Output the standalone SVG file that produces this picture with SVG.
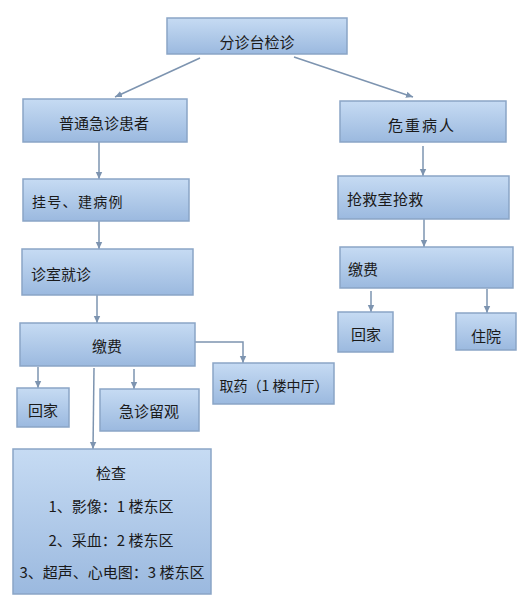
<svg xmlns="http://www.w3.org/2000/svg" width="526" height="606" viewBox="0 0 526 606">
<defs>
<linearGradient id="g" x1="0" y1="0" x2="0" y2="1">
<stop offset="0" stop-color="#c6dbf3"/>
<stop offset="1" stop-color="#9bb9df"/>
</linearGradient>
<marker id="ah" markerWidth="8" markerHeight="8" refX="7" refY="4" orient="auto" markerUnits="userSpaceOnUse">
<path d="M0,0.8 L7,4 L0,7.2 Z" fill="#7d94b0"/>
</marker>
<style>
.b{fill:url(#g);stroke:#8aa5c6;stroke-width:1.5}
.t{font-family:"Noto Sans CJK SC","Liberation Sans",sans-serif;font-size:15px;fill:#1a1a1a;dominant-baseline:central}
.c{text-anchor:middle}
.l{fill:none;stroke:#7d94b0;stroke-width:1.5;marker-end:url(#ah)}
</style>
</defs>
<rect width="526" height="606" fill="#ffffff"/>
<g id="connectors">
<path class="l" d="M200,58 L115,97"/>
<path class="l" d="M294,57 L413,97"/>
<path class="l" d="M99,142 L99,179"/>
<path class="l" d="M99,221 L99,249"/>
<path class="l" d="M97,295 L97,323"/>
<path class="l" d="M423,146 L423,176"/>
<path class="l" d="M424,219 L424,247"/>
<path class="l" d="M371,291 L371,312"/>
<path class="l" d="M487,289 L487,313"/>
<path class="l" d="M193,342 L243,342 L243,363"/>
<path class="l" d="M38,367 L38,388"/>
<path class="l" d="M134,369 L134,389"/>
<path class="l" d="M94,368 L93,449"/>
</g>
<g id="n1"><rect class="b" x="167" y="18" width="180" height="36"/><text class="t c" x="257" y="41">分诊台检诊</text></g>
<g id="n2"><rect class="b" x="23" y="99" width="164" height="43"/><text class="t c" x="104" y="122">普通急诊患者</text></g>
<g id="n3"><rect class="b" x="340" y="101" width="166" height="41"/><text class="t c" x="422" y="124" font-size="14" letter-spacing="2">危重病人</text></g>
<g id="n4"><rect class="b" x="23" y="179" width="166" height="42"/><text class="t" x="32" y="201" style="font-size:14px" letter-spacing="1.3">挂号、建病例</text></g>
<g id="n5"><rect class="b" x="22" y="249" width="171" height="46"/><text class="t" x="31" y="273">诊室就诊</text></g>
<g id="n6"><rect class="b" x="338" y="176" width="171" height="43"/><text class="t" x="347" y="198" letter-spacing="0.3">抢救室抢救</text></g>
<g id="n7"><rect class="b" x="340" y="247" width="173" height="41"/><text class="t" x="348" y="268">缴费</text></g>
<g id="n8"><rect class="b" x="338" y="312" width="55" height="40"/><text class="t c" x="366" y="333">回家</text></g>
<g id="n9"><rect class="b" x="456" y="313" width="60" height="37"/><text class="t c" x="486" y="335">住院</text></g>
<g id="n10"><rect class="b" x="20" y="323" width="175" height="43"/><text class="t c" x="107" y="345">缴费</text></g>
<g id="n11"><rect class="b" x="213" y="363" width="121" height="41"/><text class="t c" x="274" y="385" style="font-size:14px">取药（1 楼中厅）</text></g>
<g id="n12"><rect class="b" x="17" y="388" width="52" height="39"/><text class="t c" x="43" y="409">回家</text></g>
<g id="n13"><rect class="b" x="100" y="389" width="99" height="42"/><text class="t c" x="149" y="410">急诊留观</text></g>
<g id="n14"><rect class="b" x="13" y="449" width="198" height="145"/>
<text class="t c" x="111" y="472">检查</text>
<text class="t c" x="111" y="505">1、影像：1 楼东区</text>
<text class="t c" x="111" y="539">2、采血：2 楼东区</text>
<text class="t c" x="112" y="571">3、超声、心电图：3 楼东区</text>
</g>
</svg>
